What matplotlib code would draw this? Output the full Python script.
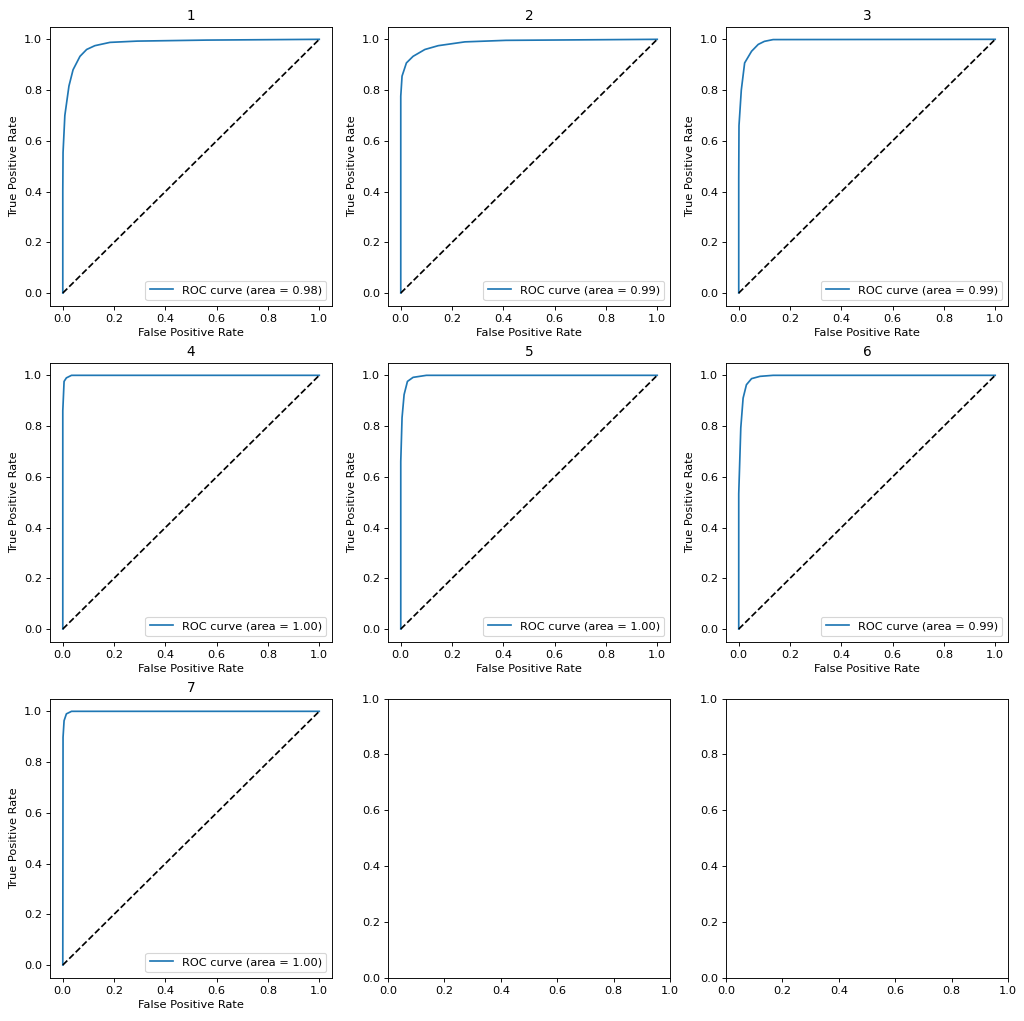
import numpy as np
import matplotlib
matplotlib.use("Agg")
import matplotlib.pyplot as plt

# ROC points, one pair of lists per class
fpr_1 = [0.0, 0.0, 0.001, 0.008, 0.024, 0.04, 0.067, 0.093, 0.125, 0.184, 0.29, 0.56, 1.0]
tpr_1 = [0.0, 0.40, 0.554, 0.70, 0.816, 0.88, 0.933, 0.96, 0.975, 0.988, 0.993, 0.997, 1.0]
fpr_2 = [0.0, 0.0, 0.005, 0.022, 0.048, 0.094, 0.146, 0.25, 0.41, 1.0]
tpr_2 = [0.0, 0.776, 0.855, 0.907, 0.933, 0.96, 0.975, 0.99, 0.996, 1.0]
fpr_3 = [0.0, 0.0, 0.001, 0.01, 0.023, 0.05, 0.076, 0.10, 0.134, 1.0]
tpr_3 = [0.0, 0.45, 0.66, 0.80, 0.907, 0.953, 0.98, 0.992, 0.999, 1.0]
fpr_4 = [0.0, 0.0, 0.005, 0.014, 0.034, 1.0]
tpr_4 = [0.0, 0.86, 0.976, 0.99, 1.0, 1.0]
fpr_5 = [0.0, 0.0, 0.005, 0.013, 0.026, 0.048, 0.10, 1.0]
tpr_5 = [0.0, 0.66, 0.833, 0.924, 0.976, 0.992, 1.0, 1.0]
fpr_6 = [0.0, 0.0, 0.008, 0.017, 0.03, 0.05, 0.083, 0.134, 1.0]
tpr_6 = [0.0, 0.533, 0.793, 0.91, 0.963, 0.987, 0.996, 1.0, 1.0]
fpr_7 = [0.0, 0.001, 0.005, 0.014, 0.034, 1.0]
tpr_7 = [0.0, 0.898, 0.963, 0.99, 1.0, 1.0]

fprs = [fpr_1, fpr_2, fpr_3, fpr_4, fpr_5, fpr_6, fpr_7]
tprs = [tpr_1, tpr_2, tpr_3, tpr_4, tpr_5, tpr_6, tpr_7]
aucs = [0.98, 0.99, 0.99, 1.00, 1.00, 0.99, 1.00]
titles = ["1", "2", "3", "4", "5", "6", "7"]

# the reference looks like a bigger figure scaled down, so render at a lower dpi
DPI = 82
fig, axes = plt.subplots(3, 3, figsize=(1024 / DPI, 1021 / DPI), dpi=DPI)
fig.subplots_adjust(left=0.0488, right=0.9844, top=0.9739, bottom=0.0424,
                    wspace=0.198, hspace=0.204)
axes = axes.flatten()

for i in range(len(fprs)):
    ax = axes[i]
    ax.plot(fprs[i], tprs[i], label='ROC curve (area = %0.2f)' % aucs[i])
    ax.plot([0, 1], [0, 1], 'k--')
    ax.set_xlabel('False Positive Rate')
    ax.set_ylabel('True Positive Rate')
    ax.set_title(titles[i])
    ax.legend(loc="lower right")

plt.savefig("out.png", dpi=DPI)
